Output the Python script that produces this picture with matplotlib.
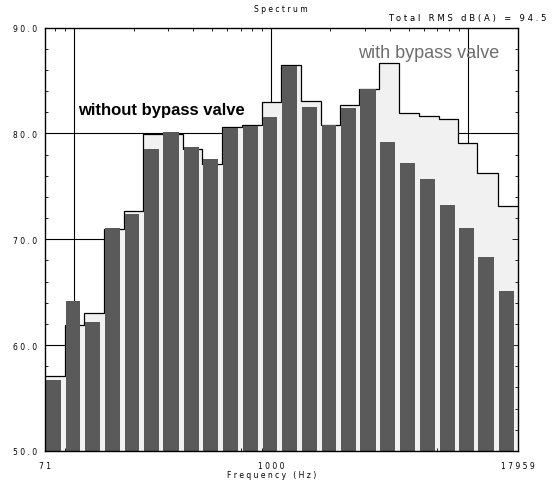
import numpy as np
import matplotlib.pyplot as plt
from matplotlib.ticker import MultipleLocator, FixedLocator

# third-octave band centres (Hz) and levels in dB(A)
centres = [80, 100, 125, 160, 200, 250, 315, 400, 500, 630, 800, 1000,
           1250, 1600, 2000, 2500, 3150, 4000, 5000, 6300, 8000, 10000, 12500, 16000]
without_valve = [56.7, 64.2, 62.2, 71.1, 72.4, 78.5, 80.1, 78.7, 77.6, 80.5, 80.7, 81.5,
                 86.4, 82.5, 80.8, 82.4, 84.2, 79.2, 77.2, 75.7, 73.2, 71.1, 68.3, 65.1]
with_valve = [57.1, 61.9, 63.0, 71.0, 72.7, 79.9, 79.9, 78.5, 77.1, 80.6, 80.8, 83.0,
              86.5, 83.1, 80.8, 82.7, 84.2, 86.6, 81.9, 81.6, 81.4, 79.1, 76.3, 73.1]
f_lo, f_hi = 71, 17959
x_ticks = [71, 1000, 17959]
x_ticklabels = ["71", "1000", "17959"]
y_ticks = [50, 60, 70, 80, 90]
y_ticklabels = ["50.0", "60.0", "70.0", "80.0", "90.0"]

W, H = 553, 481


def spaced(s, gap=" "):
    return gap.join(s)


def px(x, y):
    return x / W, 1 - y / H


c = np.array(centres, dtype=float)
edges = np.concatenate([[f_lo], np.sqrt(c[:-1] * c[1:]), [f_hi]])
lo, hi = edges[:-1], edges[1:]
bar_left = lo * (hi / lo) ** 0.05
bar_right = lo * (hi / lo) ** 0.81
y_bottom, y_top = y_ticks[0], y_ticks[-1]

fig = plt.figure(figsize=(W / 100, H / 100), dpi=100)
ax = fig.add_axes([45 / W, 1 - 452 / H, 473 / W, 423.5 / H])
ax.set_xscale("log")
ax.set_xlim(f_lo, f_hi)
ax.set_ylim(y_bottom, y_top)

# grid behind everything
ax.vlines([100, 1000, 10000], y_bottom, y_top, color="black", lw=0.8, zorder=0.5)
ax.hlines([60, 70, 80], f_lo, f_hi, color="black", lw=0.8, zorder=0.5)

# with bypass valve: light fill + step outline
ax.stairs(with_valve, edges, baseline=y_bottom, fill=True, color="#f1f1f1", zorder=1)
ax.stairs(with_valve, edges, baseline=None, color="black", lw=0.9, zorder=1.5)

# without bypass valve: dark bars
ax.bar(bar_left, np.array(without_valve) - y_bottom, width=bar_right - bar_left,
       bottom=y_bottom, align="edge", color="#5a5a5a", edgecolor="none", zorder=2)

ax.xaxis.set_major_locator(FixedLocator(x_ticks))
ax.set_xticklabels([spaced(t) for t in x_ticklabels])
ax.set_yticks(y_ticks)
ax.set_yticklabels([spaced(t) for t in y_ticklabels])
ax.yaxis.set_minor_locator(MultipleLocator(2))
ax.tick_params(which="both", direction="in", top=True, right=True, width=0.6,
               labelsize=5.5)
ax.tick_params(which="major", length=4)
ax.tick_params(which="minor", length=2)
ax.tick_params(axis="x", pad=7)
ax.tick_params(axis="y", pad=6)
for s in ax.spines.values():
    s.set_linewidth(1.0)

fig.text(*px(281, 10), spaced("Spectrum"), fontsize=5.5, ha="center", va="center")
fig.text(*px(388, 18), spaced("Total RMS dB(A) = 94.5"), fontsize=6.1,
         ha="left", va="center")
fig.text(*px(272, 476), spaced("Frequency (Hz)"), fontsize=5.5, ha="center", va="center")

fig.text(*px(78, 114.5), "without bypass valve", fontsize=12, fontweight="bold",
         family="Liberation Sans", ha="left", va="baseline", zorder=5)
fig.text(*px(358, 58.5), "with bypass valve", fontsize=13, color="#6e6e6e",
         family="Liberation Sans", ha="left", va="baseline", zorder=5)

fig.savefig("out.png", dpi=100)
